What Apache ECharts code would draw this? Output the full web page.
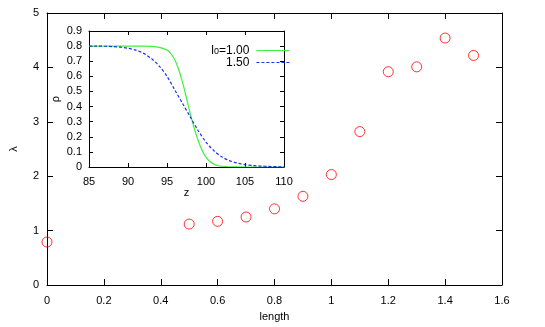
<!DOCTYPE html>
<html>
<head>
<meta charset="utf-8">
<script src="https://cdn.jsdelivr.net/npm/echarts@6/dist/echarts.min.js"></script>
<style>html,body{margin:0;padding:0;background:#fff;}#c{width:545px;height:327px;}</style>
</head>
<body>
<div id="c"></div>
<script>
// Main plot data
const lengthVals = [0, 0.5, 0.6, 0.7, 0.8, 0.9, 1.0, 1.1, 1.2, 1.3, 1.4, 1.5];
const lambdaVals = [0.79, 1.12, 1.17, 1.25, 1.40, 1.63, 2.03, 2.82, 3.92, 4.01, 4.54, 4.22];
const mainXTicks = [0, 0.2, 0.4, 0.6, 0.8, 1.0, 1.2, 1.4, 1.6];
const mainYTicks = [0, 1, 2, 3, 4, 5];

// Inset data
const zGreen = [85, 86, 87, 88, 89, 90, 91, 92, 93, 94, 95, 95.5, 96, 96.5, 97, 97.5, 98, 98.5, 99, 99.5, 100, 100.5, 101, 101.5, 102, 103, 104, 106, 108, 110];
const rhoGreen = [0.80, 0.80, 0.80, 0.80, 0.80, 0.80, 0.80, 0.80, 0.798, 0.792, 0.775, 0.75, 0.71, 0.645, 0.56, 0.455, 0.35, 0.255, 0.175, 0.11, 0.065, 0.036, 0.019, 0.01, 0.005, 0.0015, 0.0005, 0, 0, 0];
const zBlue = [85, 86, 87, 88, 89, 90, 91, 92, 93, 94, 95, 96, 97, 98, 99, 100, 101, 102, 103, 104, 105, 106, 107, 108, 109, 110];
const rhoBlue = [0.80, 0.80, 0.799, 0.797, 0.793, 0.786, 0.773, 0.752, 0.718, 0.668, 0.60, 0.51, 0.42, 0.33, 0.24, 0.165, 0.108, 0.068, 0.042, 0.026, 0.016, 0.010, 0.006, 0.004, 0.002, 0.001];
const insetXTicks = [85, 90, 95, 100, 105, 110];
const insetYTicks = [0, 0.1, 0.2, 0.3, 0.4, 0.5, 0.6, 0.7, 0.8, 0.9];
const seriesNames = ['l0=1.00', '1.50'];

const FONT = 'Liberation Sans, Arial, Helvetica, sans-serif';
const lbl = {color: '#000', fontFamily: FONT, fontSize: 11};
const GREEN = '#44ee44', BLUE = '#1a33ee';
const greenLine = {color: GREEN, width: 1.2, type: 'solid'};
const blueLine = {color: BLUE, width: 1.2, type: [3, 2]};

function mkX(grid, min, max, step, pos, showLabel, tickLen, margin, extra) {
  return Object.assign({
    type: 'value', gridIndex: grid, min: min, max: max, interval: step, position: pos,
    axisLine: {show: true, onZero: false, lineStyle: {color: '#000', width: 1}},
    axisTick: {show: true, inside: true, length: tickLen, lineStyle: {color: '#000'}},
    axisLabel: Object.assign({show: showLabel, margin: margin}, lbl),
    splitLine: {show: false}
  }, extra || {});
}

const chart = echarts.init(document.getElementById('c'), null, {renderer: 'canvas'});
chart.setOption({
  animation: false,
  backgroundColor: '#fff',
  grid: [
    {left: 41, right: 43, top: 13, bottom: 40},
    {left: 89, top: 31, width: 195, height: 136, show: true, backgroundColor: '#fff', borderWidth: 0, z: 5}
  ],
  xAxis: [
    mkX(0, mainXTicks[0], mainXTicks[mainXTicks.length - 1], 0.2, 'bottom', true, 6, 10,
      {name: 'length', nameLocation: 'middle', nameGap: 26, nameTextStyle: lbl}),
    mkX(0, mainXTicks[0], mainXTicks[mainXTicks.length - 1], 0.2, 'top', false, 6, 8),
    mkX(1, insetXTicks[0], insetXTicks[insetXTicks.length - 1], 5, 'bottom', true, 4, 9,
      {name: 'z', nameLocation: 'middle', nameGap: 17, nameTextStyle: lbl, z: 6}),
    mkX(1, insetXTicks[0], insetXTicks[insetXTicks.length - 1], 5, 'top', false, 4, 8, {z: 6})
  ],
  yAxis: [
    mkX(0, mainYTicks[0], mainYTicks[mainYTicks.length - 1], 1, 'left', true, 6, 8,
      {name: 'λ', nameLocation: 'middle', nameGap: 28, nameRotate: 90, nameTextStyle: lbl}),
    mkX(0, mainYTicks[0], mainYTicks[mainYTicks.length - 1], 1, 'right', false, 6, 8),
    mkX(1, insetYTicks[0], insetYTicks[insetYTicks.length - 1], 0.1, 'left', true, 4, 7,
      {name: 'ρ', nameLocation: 'middle', nameGap: 28, nameRotate: 90, nameTextStyle: lbl, z: 6}),
    mkX(1, insetYTicks[0], insetYTicks[insetYTicks.length - 1], 0.1, 'right', false, 4, 8, {z: 6})
  ],
  legend: {
    show: true,
    orient: 'vertical',
    align: 'right',
    right: 255,
    top: 43,
    padding: 0,
    itemWidth: 33,
    itemHeight: 8,
    itemGap: 0,
    z: 10,
    data: [
      {name: seriesNames[0], lineStyle: greenLine},
      {name: seriesNames[1], lineStyle: blueLine}
    ],
    itemStyle: {color: 'rgba(0,0,0,0)', borderWidth: 0, opacity: 0},
    formatter: function (n) { return n === seriesNames[0] ? '{a|l}{s|0}{a|=1.00}' : '{a|1.50}'; },
    textStyle: {
      color: '#000', fontFamily: FONT, fontSize: 12, padding: [0, 2, 0, 0],
      rich: {
        a: {color: '#000', fontFamily: FONT, fontSize: 12, lineHeight: 11},
        s: {color: '#000', fontFamily: FONT, fontSize: 9, lineHeight: 7, padding: [4, 0, 0, 0], verticalAlign: 'bottom'}
      }
    }
  },
  series: [
    {
      type: 'scatter', xAxisIndex: 0, yAxisIndex: 0,
      data: lengthVals.map((x, i) => [x, lambdaVals[i]]),
      symbol: 'circle', symbolSize: 10,
      itemStyle: {color: 'rgba(0,0,0,0)', borderColor: '#ff0000', borderWidth: 1}
    },
    {
      name: seriesNames[0], type: 'line', xAxisIndex: 2, yAxisIndex: 2, z: 7,
      data: zGreen.map((x, i) => [x, rhoGreen[i]]),
      symbol: 'none', smooth: 0.3,
      lineStyle: greenLine,
      itemStyle: {color: GREEN}
    },
    {
      name: seriesNames[1], type: 'line', xAxisIndex: 2, yAxisIndex: 2, z: 7,
      data: zBlue.map((x, i) => [x, rhoBlue[i]]),
      symbol: 'none', smooth: 0.3,
      lineStyle: blueLine,
      itemStyle: {color: BLUE}
    }
  ]
});
</script>
</body>
</html>
